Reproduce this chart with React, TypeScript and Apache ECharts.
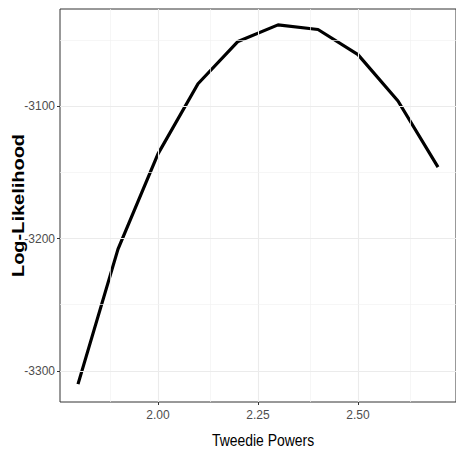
import React, { useEffect, useRef } from "react";
import * as echarts from "echarts";

const powers = [1.8, 1.9, 2.0, 2.1, 2.2, 2.3, 2.4, 2.5, 2.6, 2.7];
const logLik = [-3310, -3208, -3136, -3083, -3051, -3038.5, -3042, -3061, -3096, -3146];
const xTicks = [2.0, 2.25, 2.5];
const xMinor = [1.875, 2.125, 2.375, 2.625];
const yTicks = [-3300, -3200, -3100];
const yMinor = [-3250, -3150, -3050];

const REG = "'Liberation Sans', Arial, sans-serif";

export default function App() {
  const ref = useRef<HTMLDivElement>(null);
  useEffect(() => {
    document.body.style.margin = "0";
    const chart = echarts.init(ref.current!, null, { renderer: "svg" });
    const major = { color: "#EBEBEB", width: 1.1, type: "solid" };
    const minor = { color: "#F2F2F2", width: 0.7, type: "solid" };
    const gridData: any[] = [];
    xTicks.forEach((v) => gridData.push({ xAxis: v, lineStyle: major }));
    xMinor.forEach((v) => gridData.push({ xAxis: v, lineStyle: minor }));
    yTicks.forEach((v) => gridData.push({ yAxis: v, lineStyle: major }));
    yMinor.forEach((v) => gridData.push({ yAxis: v, lineStyle: minor }));
    chart.setOption({
      animation: false,
      backgroundColor: "#ffffff",
      grid: {
        left: 60,
        top: 9,
        right: -10,
        bottom: 48,
        show: true,
        borderColor: "#333333",
        borderWidth: 1,
        backgroundColor: "#ffffff",
      },
      xAxis: {
        type: "value",
        min: 1.755,
        max: 2.745,
        axisLine: { show: false },
        splitLine: { show: false },
        axisTick: { show: true, length: 3, lineStyle: { color: "#333333", width: 1 }, customValues: xTicks },
        axisLabel: {
          customValues: xTicks,
          formatter: (v: number) => v.toFixed(2),
          color: "#4D4D4D",
          fontSize: 12,
          fontFamily: REG,
          margin: 7,
        },
      },
      yAxis: {
        type: "value",
        min: -3323.5,
        max: -3026.5,
        axisLine: { show: false },
        splitLine: { show: false },
        axisTick: { show: true, length: 3, lineStyle: { color: "#333333", width: 1 }, customValues: yTicks },
        axisLabel: {
          customValues: yTicks,
          formatter: (v: number) => String(v),
          color: "#4D4D4D",
          fontSize: 12,
          fontFamily: REG,
          margin: 5,
        },
      },
      graphic: [
        {
          type: "text",
          x: 263,
          y: 440,
          scaleX: 0.82,
          style: {
            text: "Tweedie Powers",
            fontSize: 17,
            fontFamily: REG,
            fill: "#000000",
            align: "center",
            verticalAlign: "middle",
          },
        },
        {
          type: "text",
          x: 18,
          y: 205.5,
          rotation: Math.PI / 2,
          scaleY: 0.82,
          style: {
            text: "Log-Likelihood",
            fontSize: 20,
            fontWeight: "bold",
            fontFamily: REG,
            fill: "#000000",
            align: "center",
            verticalAlign: "middle",
          },
        },
      ],
      series: [
        {
          type: "line",
          z: 1,
          data: [],
          markLine: {
            silent: true,
            symbol: ["none", "none"],
            label: { show: false },
            data: gridData,
          },
        },
        {
          type: "line",
          z: 3,
          data: powers.map((p, i) => [p, logLik[i]]),
          showSymbol: false,
          symbol: "none",
          lineStyle: { color: "#000000", width: 3.2 },
        },
      ],
    });
    return () => chart.dispose();
  }, []);
  return <div ref={ref} style={{ width: 456, height: 450 }} />;
}
